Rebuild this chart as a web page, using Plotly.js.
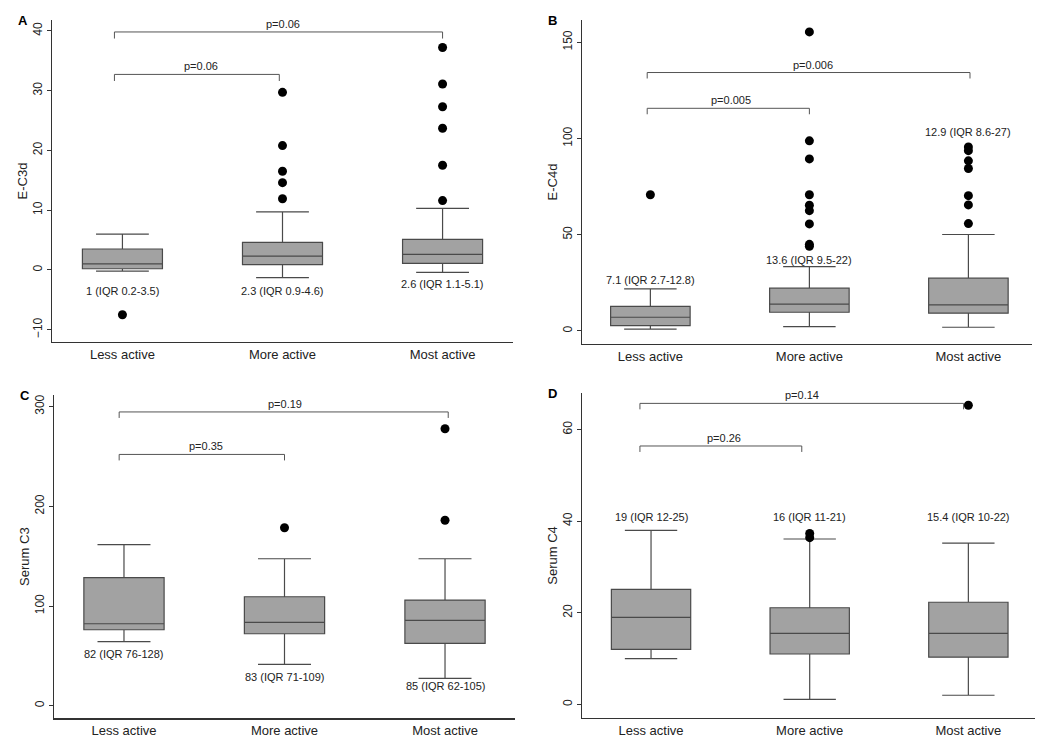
<!DOCTYPE html>
<html>
<head>
<meta charset="utf-8">
<script src="https://cdn.plot.ly/plotly-3.0.1.min.js"></script>
<style>
  body { margin: 0; background: #fff; }
  #chart { width: 1050px; height: 747px; }
</style>
</head>
<body>
<div id="chart"></div>
<script>
var groups = ['Less active', 'More active', 'Most active'];

// A: E-C3d
var c3d_q1 = [0.2, 0.9, 1.1];
var c3d_med = [1, 2.3, 2.6];
var c3d_q3 = [3.5, 4.6, 5.1];
var c3d_lo = [-0.2, -1.3, -0.4];
var c3d_hi = [6.0, 9.7, 10.3];
var c3d_out = [[-7.5], [29.7, 20.8, 16.5, 14.6, 11.9], [37.2, 31.1, 27.3, 23.7, 17.5, 11.6]];
var c3d_iqr = ['1 (IQR 0.2-3.5)', '2.3 (IQR 0.9-4.6)', '2.6 (IQR 1.1-5.1)'];
var c3d_p = ['p=0.06', 'p=0.06'];

// B: E-C4d
var c4d_q1 = [2.7, 9.7, 9.2];
var c4d_med = [7.1, 13.9, 13.5];
var c4d_q3 = [12.8, 22.2, 27.4];
var c4d_lo = [0.9, 2.2, 1.9];
var c4d_hi = [21.8, 33.4, 50.1];
var c4d_out = [[70.8], [155.4, 98.8, 89.4, 70.8, 65.3, 62.5, 55.6, 45.0, 44.0], [95.6, 93.7, 88.4, 84.4, 70.3, 65.5, 55.8]];
var c4d_iqr = ['7.1 (IQR 2.7-12.8)', '13.6 (IQR 9.5-22)', '12.9 (IQR 8.6-27)'];
var c4d_p = ['p=0.005', 'p=0.006'];

// C: Serum C3
var sc3_q1 = [76.2, 72.2, 62.6];
var sc3_med = [82.2, 83.6, 85.6];
var sc3_q3 = [128.4, 109.3, 106];
var sc3_lo = [64.2, 41.5, 27.5];
var sc3_hi = [161.5, 147.4, 147.4];
var sc3_out = [[], [178.5], [277.8, 186.0]];
var sc3_iqr = ['82 (IQR 76-128)', '83 (IQR 71-109)', '85 (IQR 62-105)'];
var sc3_p = ['p=0.35', 'p=0.19'];

// D: Serum C4
var sc4_q1 = [12.0, 11.0, 10.3];
var sc4_med = [19.0, 15.5, 15.5];
var sc4_q3 = [25.1, 21.1, 22.3];
var sc4_lo = [10.0, 1.1, 2.0];
var sc4_hi = [38.0, 36.1, 35.2];
var sc4_out = [[], [37.3, 36.4], [65.3]];
var sc4_iqr = ['19 (IQR 12-25)', '16 (IQR 11-21)', '15.4 (IQR 10-22)'];
var sc4_p = ['p=0.26', 'p=0.14'];

var panels = [
  { tag: 'A', title: 'E-C3d', q1: c3d_q1, med: c3d_med, q3: c3d_q3, lo: c3d_lo, hi: c3d_hi, out: c3d_out,
    iqr: c3d_iqr, p: c3d_p, px: [52, 513], py: [20, 342], xr: [-0.44, 2.44], yr: [-12.05, 41.8], dtick: 10,
    iqrY: [-3.5, -3.5, -2.4], brY: [32.7, 39.8], brDrop: 1.1, brX0: -0.05, brX1: [0.98, 2.0], pX: [0.49, 1.0] },
  { tag: 'B', title: 'E-C4d', q1: c4d_q1, med: c4d_med, q3: c4d_q3, lo: c4d_lo, hi: c4d_hi, out: c4d_out,
    iqr: c4d_iqr, p: c4d_p, px: [582, 1032], py: [20, 344], xr: [-0.43, 2.40], yr: [-6.8, 161.6], dtick: 50,
    iqrY: [26.5, 36.9, 103.6], brY: [115.7, 134.3], brDrop: 3.1, brX0: -0.02, brX1: [1.0, 2.01], pX: [0.51, 1.02] },
  { tag: 'C', title: 'Serum C3', q1: sc3_q1, med: sc3_med, q3: sc3_q3, lo: sc3_lo, hi: sc3_hi, out: sc3_out,
    iqr: sc3_iqr, p: sc3_p, px: [54, 515], py: [395, 718.3], xr: [-0.436, 2.436], yr: [-12.6, 311.6], dtick: 100,
    iqrY: [51.5, 29.1, 19.8], brY: [252, 294.6], brDrop: 6, brX0: -0.03, brX1: [1.0, 2.02], pX: [0.51, 1.0] },
  { tag: 'D', title: 'Serum C4', q1: sc4_q1, med: sc4_med, q3: sc4_q3, lo: sc4_lo, hi: sc4_hi, out: sc4_out,
    iqr: sc4_iqr, p: sc4_p, px: [581.7, 1035], py: [393.3, 717.7], xr: [-0.437, 2.42], yr: [-2.9, 67.9], dtick: 20,
    iqrY: [40.9, 40.9, 40.9], brY: [56.4, 65.7], brDrop: 1.3, brX0: -0.07, brX1: [0.95, 1.97], pX: [0.46, 0.95] }
];

var W = 1050, H = 747;
var font = 'Liberation Sans, Arial, sans-serif';
var data = [];
var layout = {
  width: W, height: H,
  margin: { l: 0, r: 0, t: 0, b: 0 },
  paper_bgcolor: '#fff', plot_bgcolor: '#fff',
  showlegend: false,
  font: { family: font, color: '#222', size: 12 },
  annotations: [], shapes: []
};

panels.forEach(function (pn, i) {
  var n = i + 1;
  var xa = 'x' + n, ya = 'y' + n;
  var xs = [0, 1, 2];

  data.push({
    type: 'box', xaxis: xa, yaxis: ya, x: xs,
    q1: pn.q1, median: pn.med, q3: pn.q3, lowerfence: pn.lo, upperfence: pn.hi,
    boxpoints: false, width: 0.5, whiskerwidth: 0.66,
    fillcolor: '#a2a2a2', line: { color: '#4a4a4a', width: 1.2 },
    hoverinfo: 'skip'
  });

  var ox = [], oy = [];
  pn.out.forEach(function (vals, g) {
    vals.forEach(function (v) { ox.push(g); oy.push(v); });
  });
  data.push({
    type: 'scatter', mode: 'markers', xaxis: xa, yaxis: ya, x: ox, y: oy,
    marker: { color: '#000', size: 9 }, hoverinfo: 'skip'
  });

  layout['xaxis' + n] = {
    domain: [pn.px[0] / W, pn.px[1] / W], anchor: ya, range: pn.xr,
    tickvals: xs, ticktext: groups, ticks: '', showgrid: false, zeroline: false,
    showline: true, linecolor: '#333', linewidth: 1.2,
    tickfont: { family: font, size: 13, color: '#222' }
  };
  layout['yaxis' + n] = {
    domain: [1 - pn.py[1] / H, 1 - pn.py[0] / H], anchor: xa, range: pn.yr,
    dtick: pn.dtick, tick0: 0, tickangle: -90, ticks: 'outside', ticklen: 4, tickcolor: '#333',
    showgrid: false, zeroline: false, showline: true, linecolor: '#333', linewidth: 1.2,
    tickfont: { family: font, size: 12, color: '#222' },
    title: { text: pn.title, font: { family: font, size: 13, color: '#222' }, standoff: 0 }
  };

  // IQR labels
  pn.iqr.forEach(function (t, g) {
    layout.annotations.push({
      xref: xa, yref: ya, x: g, y: pn.iqrY[g], text: t, showarrow: false,
      font: { family: font, size: 11, color: '#222' }
    });
  });

  // comparison brackets: less vs more, less vs most
  pn.p.forEach(function (t, k) {
    var x0 = pn.brX0, x1 = pn.brX1[k], yb = pn.brY[k], yd = yb - pn.brDrop;
    layout.shapes.push({
      type: 'path', xref: xa, yref: ya,
      path: 'M' + x0 + ',' + yd + ' L' + x0 + ',' + yb + ' L' + x1 + ',' + yb + ' L' + x1 + ',' + yd,
      line: { color: '#555', width: 1 }
    });
    layout.annotations.push({
      xref: xa, yref: ya, x: pn.pX[k], y: yb, yanchor: 'bottom',
      text: t, showarrow: false, font: { family: font, size: 11, color: '#222' }
    });
  });

  // panel letter
  layout.annotations.push({
    xref: 'paper', yref: 'paper', x: (pn.px[0] - 36) / W, y: 1 - (pn.py[0]) / H,
    xanchor: 'left', yanchor: 'middle', text: '<b>' + pn.tag + '</b>', showarrow: false,
    font: { family: font, size: 13, color: '#000' }
  });
});

Plotly.newPlot('chart', data, layout, { staticPlot: true });
</script>
</body>
</html>
